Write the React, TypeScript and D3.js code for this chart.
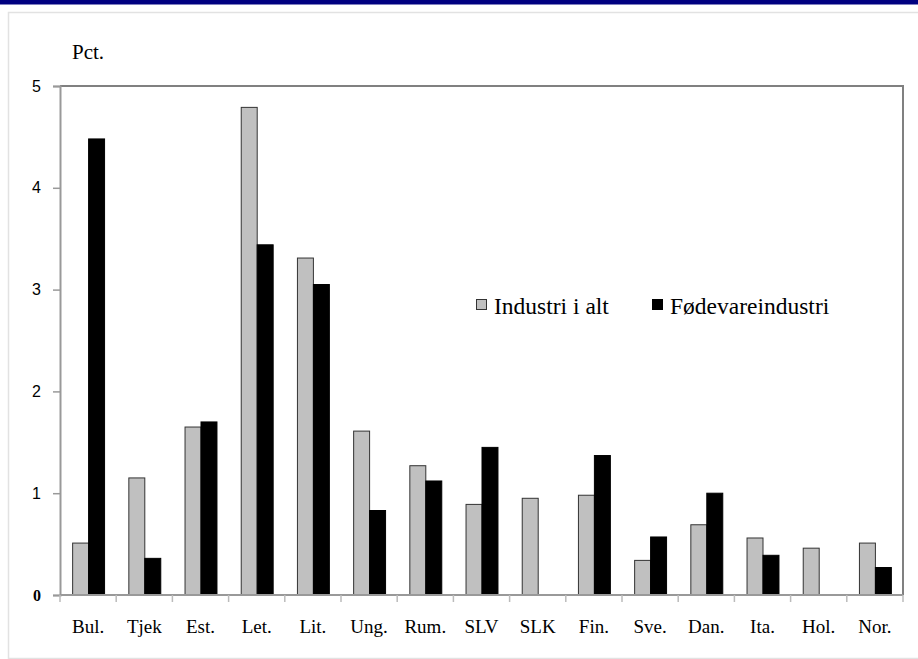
import React from 'react';
import * as d3 from 'd3';
import { useEffect, useRef } from 'react';

const countries = ['Bul.', 'Tjek', 'Est.', 'Let.', 'Lit.', 'Ung.', 'Rum.', 'SLV', 'SLK', 'Fin.', 'Sve.', 'Dan.', 'Ita.', 'Hol.', 'Nor.'];
const industriIAlt = [0.51, 1.15, 1.65, 4.79, 3.31, 1.61, 1.27, 0.89, 0.95, 0.98, 0.34, 0.69, 0.56, 0.46, 0.51];
const foedevareindustri = [4.48, 0.36, 1.70, 3.44, 3.05, 0.83, 1.12, 1.45, 0, 1.37, 0.57, 1.00, 0.39, 0, 0.27];
const seriesNames = ['Industri i alt', 'Fødevareindustri'];
const seriesColours = ['#c0c0c0', '#000000'];
const yTicks = [0, 1, 2, 3, 4, 5];

const serif = 'Liberation Serif, DejaVu Serif, serif';
const sans = 'Liberation Sans, Arial, sans-serif';

const App = () => {
    const chartRef = useRef<SVGSVGElement | null>(null);
    const width = 918;
    const height = 659;

    useEffect((): void => {
        const svg = d3.select(chartRef.current);
        svg.selectAll('*').remove();

        const left = 60, right = 903, top = 86, bottom = 595;

        // page frame
        svg.append('rect').attr('x', 0).attr('y', 0).attr('width', width).attr('height', 4.5).attr('fill', '#000080');
        svg.append('path')
            .attr('d', `M${width},12.5 H8.5 V658.5 H${width}`)
            .attr('fill', 'none').attr('stroke', '#e2e2e2').attr('stroke-width', 1.5);

        const xScale = d3.scaleBand<string>().domain(countries).range([left, right]).padding(0);
        const inner = d3.scaleBand<string>().domain(seriesNames).range([0, xScale.bandwidth()]).paddingInner(0).paddingOuter(0.76);
        const yScale = d3.scaleLinear().domain([0, 5]).range([bottom, top]);

        // plot frame top and right
        svg.append('path')
            .attr('d', `M${left},${top} H${right} V${bottom}`)
            .attr('fill', 'none').attr('stroke', '#808080').attr('stroke-width', 2);

        const rows = countries.map((c, i) => ({ country: c, values: [industriIAlt[i], foedevareindustri[i]] }));

        const groups = svg.selectAll('g.group')
            .data(rows)
            .enter()
            .append('g')
            .attr('class', 'group')
            .attr('transform', d => `translate(${xScale(d.country)},0)`);

        groups.selectAll('rect')
            .data(d => d.values.map((v, k) => ({ v, k })).filter(e => e.v > 0))
            .enter()
            .append('rect')
            .attr('x', d => (inner(seriesNames[d.k]) ?? 0) + 0.5)
            .attr('y', d => yScale(d.v))
            .attr('width', inner.bandwidth())
            .attr('height', d => bottom - yScale(d.v))
            .attr('fill', d => seriesColours[d.k])
            .attr('stroke', d => d.k === 0 ? '#333333' : '#000000')
            .attr('stroke-width', 1);

        // y axis
        const yAxis = svg.append('g')
            .attr('transform', `translate(${left},0)`)
            .call(d3.axisLeft(yScale).tickValues(yTicks).tickSize(7).tickPadding(12).tickFormat(d3.format('d')));
        yAxis.select('.domain').attr('stroke', '#999999').attr('stroke-width', 2);
        yAxis.selectAll('.tick line').attr('stroke', '#999999').attr('stroke-width', 1.5);
        yAxis.selectAll('.tick text')
            .attr('font-family', (d: any) => d === 0 ? serif : sans)
            .attr('font-weight', (d: any) => d === 0 ? 'bold' : 'normal')
            .attr('font-size', 16)
            .attr('fill', '#000');

        // x axis
        svg.append('line')
            .attr('x1', left).attr('x2', right).attr('y1', bottom).attr('y2', bottom)
            .attr('stroke', '#999999').attr('stroke-width', 2);
        const tickPos = countries.map(c => xScale(c) ?? 0).concat([right]);
        svg.selectAll('line.xtick')
            .data(tickPos)
            .enter()
            .append('line')
            .attr('class', 'xtick')
            .attr('x1', d => d).attr('x2', d => d)
            .attr('y1', bottom).attr('y2', bottom + 7)
            .attr('stroke', '#bbbbbb').attr('stroke-width', 1.5);

        svg.selectAll('text.xlabel')
            .data(countries)
            .enter()
            .append('text')
            .attr('class', 'xlabel')
            .attr('x', d => (xScale(d) ?? 0) + xScale.bandwidth() / 2)
            .attr('y', 633)
            .attr('text-anchor', 'middle')
            .attr('font-family', serif)
            .attr('font-size', 19)
            .text(d => d);

        svg.append('text')
            .attr('x', 72).attr('y', 59)
            .attr('font-family', serif)
            .attr('font-size', 21)
            .text('Pct.');

        // legend
        const legendX = [476, 652];
        seriesNames.forEach((name, k) => {
            svg.append('rect')
                .attr('x', legendX[k] + 0.5).attr('y', 299.5)
                .attr('width', 10).attr('height', 10)
                .attr('fill', seriesColours[k])
                .attr('stroke', k === 0 ? '#333333' : '#000000');
            svg.append('text')
                .attr('x', legendX[k] + 18).attr('y', 314)
                .attr('font-family', serif)
                .attr('font-size', 23.5)
                .text(name);
        });
    }, []);

    return (
        <svg ref={chartRef} width={width} height={height}
            style={{ position: 'absolute', left: 0, top: 0, background: '#ffffff' }}></svg>
    );
};

export default App;
